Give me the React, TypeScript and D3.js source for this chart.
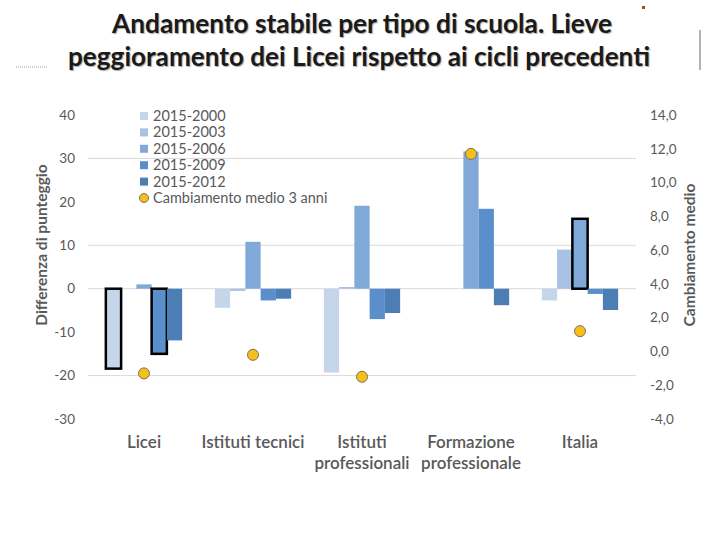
import React from 'react';
import * as d3 from 'd3';

const categories = ['Licei', 'Istituti tecnici', 'Istituti professionali', 'Formazione professionale', 'Italia'];
const categoryLines = [['Licei'], ['Istituti tecnici'], ['Istituti', 'professionali'], ['Formazione', 'professionale'], ['Italia']];
const seriesNames = ['2015-2000', '2015-2003', '2015-2006', '2015-2009', '2015-2012'];
const s2000 = [-18.4, -4.4, -19.3, null, -2.7];
const s2003 = [null, -0.5, 0.4, null, 9.0];
const s2006 = [1.0, 10.8, 19.1, 31.6, 16.1];
const s2009 = [-15.0, -2.7, -7.0, 18.4, -1.2];
const s2012 = [-11.9, -2.3, -5.6, -3.8, -4.9];
const avgChange = [-1.3, -0.2, -1.5, 11.7, 1.2];
const leftTicks = [40, 30, 20, 10, 0, -10, -20, -30];
const rightTicks = [14, 12, 10, 8, 6, 4, 2, 0, -2, -4];
const gridValues = [30, 10, 0, -20];
const highlighted = [['Licei', '2015-2000'], ['Licei', '2015-2009'], ['Italia', '2015-2006']];

const seriesValues = [s2000, s2003, s2006, s2009, s2012];
const colors = ['#c5d5ea', '#a9c1e2', '#80a8d8', '#5a8fcb', '#4c7db5'];
const font = 'Lato, "Open Sans", sans-serif';
const textGray = '#595959';

const App: React.FC = () => {
    const width = 720;
    const height = 540;

    const x = d3.scaleBand<string>().domain(categories).range([89.5, 634.5]).paddingInner(0.3).paddingOuter(0.15);
    const xs = d3.scaleBand<string>().domain(seriesNames).range([0, x.bandwidth()]);
    const y = d3.scaleLinear().domain([-30, 40]).range([419, 115]);
    const yR = d3.scaleLinear().domain([-4, 14]).range([419, 115]);
    const fmtR = (v: number) => d3.format('.1f')(v).replace('.', ',').replace('−', '-');

    const isHi = (c: string, s: string) => highlighted.some(([hc, hs]) => hc === c && hs === s);

    return (
        <svg width={width} height={height} style={{ position: 'absolute', left: 0, top: 0, background: '#fff' }} fontFamily={font}>
            {/* title */}
            <g fontWeight="bold" fontSize={26} fill="#1a1a1a" textAnchor="middle" style={{ textShadow: '1px 1px 1px #aaa' }}>
                <text x={362} y={33} textLength={500} lengthAdjust="spacingAndGlyphs">Andamento stabile per tipo di scuola. Lieve</text>
                <text x={359} y={66} textLength={582} lengthAdjust="spacingAndGlyphs">peggioramento dei Licei rispetto ai cicli precedenti</text>
            </g>
            <line x1={16} x2={48} y1={67} y2={67} stroke="#8aa0c0" strokeWidth={1} strokeDasharray="1,1" />
            <line x1={700} x2={700} y1={30} y2={70} stroke="#999" strokeWidth={1.5} />
            <rect x={642} y={6} width={3} height={3} fill="#c0392b" />

            {/* gridlines */}
            {gridValues.map(v => (
                <line key={v} x1={88} x2={636} y1={y(v)} y2={y(v)} stroke="#d9d9d9" strokeWidth={1} />
            ))}

            {/* bars */}
            {categories.map((c, ci) => (
                <g key={c} transform={`translate(${x(c)},0)`}>
                    {seriesNames.map((s, si) => {
                        const v = seriesValues[si][ci];
                        if (v === null) return null;
                        const y0 = y(0);
                        const y1 = y(v);
                        return (
                            <rect
                                key={s}
                                x={xs(s)}
                                y={Math.min(y0, y1)}
                                width={xs.bandwidth()}
                                height={Math.abs(y1 - y0)}
                                fill={colors[si]}
                                stroke={isHi(c, s) ? '#000' : 'none'}
                                strokeWidth={isHi(c, s) ? 2.5 : 0}
                            />
                        );
                    })}
                </g>
            ))}

            {/* average change dots */}
            {categories.map((c, ci) => (
                <circle key={c} cx={x(c)! + x.bandwidth() / 2} cy={yR(avgChange[ci])} r={5.5} fill="#f6bf1a" stroke="#7f7350" strokeWidth={1} />
            ))}

            {/* left axis */}
            <g fontSize={13.5} fill={textGray} textAnchor="end">
                {leftTicks.map(t => (
                    <text key={t} x={75} y={y(t)} dy="0.35em">{t}</text>
                ))}
            </g>
            {/* right axis */}
            <g fontSize={13.5} fill={textGray} textAnchor="start">
                {rightTicks.map(t => (
                    <text key={t} x={650} y={yR(t)} dy="0.35em">{fmtR(t)}</text>
                ))}
            </g>

            {/* axis titles */}
            <text transform="translate(47,245) rotate(-90)" textAnchor="middle" fontSize={15.5} fontWeight="bold" fill={textGray}>Differenza di punteggio</text>
            <text transform="translate(695,255) rotate(-90)" textAnchor="middle" fontSize={15.5} fontWeight="bold" fill={textGray}>Cambiamento medio</text>

            {/* category labels */}
            <g fontSize={17} fill={textGray} textAnchor="middle" fontWeight={600}>
                {categories.map((c, ci) => (
                    <text key={c} x={x(c)! + x.bandwidth() / 2} y={448}>
                        {categoryLines[ci].map((l, li) => (
                            <tspan key={li} x={x(c)! + x.bandwidth() / 2} dy={li === 0 ? 0 : 21}>{l}</tspan>
                        ))}
                    </text>
                ))}
            </g>

            {/* legend */}
            <g fontSize={14.5} fill={textGray}>
                {seriesNames.map((s, i) => (
                    <g key={s} transform={`translate(140,${116 + i * 16.4})`}>
                        <rect x={0} y={-4} width={8} height={8} fill={colors[i]} />
                        <text x={13} y={0} dy="0.35em">{s}</text>
                    </g>
                ))}
                <g transform={`translate(140,${116 + 5 * 16.4})`}>
                    <circle cx={4} cy={0} r={4.5} fill="#f6bf1a" stroke="#7f7350" strokeWidth={1} />
                    <text x={13} y={0} dy="0.35em">Cambiamento medio 3 anni</text>
                </g>
            </g>
        </svg>
    );
};

export default App;
